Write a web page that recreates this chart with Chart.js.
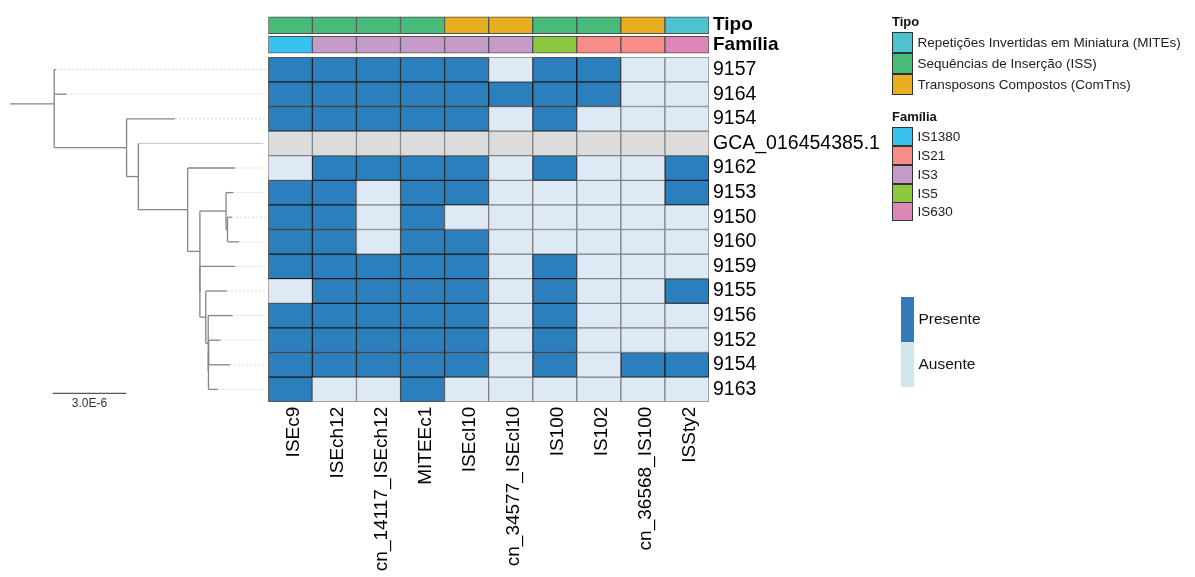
<!DOCTYPE html>
<html>
<head>
<meta charset="utf-8">
<script src="https://cdn.jsdelivr.net/npm/chart.js@4/dist/chart.umd.min.js"></script>
<style>
  html,body{margin:0;padding:0;background:#fff;}
  #wrap{position:relative;width:1195px;height:577px;overflow:hidden;font-family:'Liberation Sans',Arial,sans-serif;}
  canvas{position:absolute;left:0;top:0;}
  .lgt{position:absolute;font-weight:bold;font-size:13px;color:#111;line-height:1;}
  .lgi{position:absolute;font-size:13.5px;color:#222;line-height:1;white-space:nowrap;}
  .box{position:absolute;box-sizing:border-box;border:1px solid #333;}
</style>
</head>
<body>
<div id="wrap">
  <canvas id="tree" width="272" height="577"></canvas>
  <canvas id="annot" width="1195" height="577"></canvas>
  <canvas id="heat" width="1195" height="577"></canvas>
  <div id="legend"></div>
</div>
<script>
// ---------------- DATA ----------------
const columns = ['ISEc9','ISEch12','cn_14117_ISEch12','MITEEc1','ISEcl10','cn_34577_ISEcl10','IS100','IS102','cn_36568_IS100','ISSty2'];
const columnTipo = ['ISS','ISS','ISS','ISS','ComTns','ComTns','ISS','ISS','ComTns','MITEs'];
const columnFamilia = ['IS1380','IS3','IS3','IS3','IS3','IS3','IS5','IS21','IS21','IS630'];
const rowLabels = ['9157','9164','9154','GCA_016454385.1','9162','9153','9150','9160','9159','9155','9156','9152','9154','9163'];
const annotLabels = ['Tipo', 'Família'];
// 1 = Presente, 0 = Ausente, null = sem dado
const presence = [
  [1,1,1,1,1,0,1,1,0,0],
  [1,1,1,1,1,1,1,1,0,0],
  [1,1,1,1,1,0,1,0,0,0],
  [null,null,null,null,null,null,null,null,null,null],
  [0,1,1,1,1,0,1,0,0,1],
  [1,1,0,1,1,0,0,0,0,1],
  [1,1,0,1,0,0,0,0,0,0],
  [1,1,0,1,1,0,0,0,0,0],
  [1,1,1,1,1,0,1,0,0,0],
  [0,1,1,1,1,0,1,0,0,1],
  [1,1,1,1,1,0,1,0,0,0],
  [1,1,1,1,1,0,1,0,0,0],
  [1,1,1,1,1,0,1,0,1,1],
  [1,0,0,1,0,0,0,0,0,0]
];
const tipoKeys = ['MITEs','ISS','ComTns'];
const tipoNames = ['Repetições Invertidas em Miniatura (MITEs)','Sequências de Inserção (ISS)','Transposons Compostos (ComTns)'];
const familiaKeys = ['IS1380','IS21','IS3','IS5','IS630'];
const stateNames = ['Presente','Ausente'];
// tree (branch lengths in units of 1e-6)
const treeNewick = "(9157:0.07,9164:0.51,(9154:1.98,(GCA_016454385.1:5.06,(9162:1.94,((9153:0.30,(9150:0.18,9160:0.48):0.06):1.07,(9159:1.44,(9155:0.86,(9156:1.00,((9152:0.49,9154:0.87):0.01,9163:0.38):0.01):0.10):0.24):0.00):0.50):2.02):0.48):2.96):1.81;";
const scaleBarValue = 3.0; // x 1e-6
const scaleBarLabel = '3.0E-6';

// ---------------- STYLE ----------------
const tipoColors = {MITEs:'#4CC3CE', ISS:'#48BA7A', ComTns:'#E8AE22'};
const familiaColors = {IS1380:'#37C2EF', IS21:'#F78D86', IS3:'#C79BC9', IS5:'#8DC63F', IS630:'#DD86B8'};
const presentColor = '#2C7FBD', absentColor = '#DDEAF5', naColor = '#DCDCDC';
Chart.defaults.font.family = "'Liberation Sans', Arial, sans-serif";
Chart.defaults.animation = false;

const GRID_L = 268.3, GRID_R = 709, GRID_T = 57.3, GRID_B = 401.7, W = 1195, H = 577;
const nRows = rowLabels.length;

// ---------------- HEATMAP ----------------
const heatDatasets = presence.map((row, r) => ({
  label: rowLabels[r],
  data: columns.map(() => 1),
  backgroundColor: row.map(v => v === null ? naColor : (v ? presentColor : absentColor)),
  borderColor: row.map(v => v === 1 ? '#1b1b1b' : '#808080'),
  borderWidth: 1,
  borderSkipped: false,
  barPercentage: 1,
  categoryPercentage: 1
}));
new Chart(document.getElementById('heat'), {
  type: 'bar',
  data: {labels: columns, datasets: heatDatasets},
  options: {
    responsive: false,
    layout: {padding: {left: GRID_L, top: GRID_T, right: 0, bottom: 0}},
    plugins: {legend: {display: false}, tooltip: {enabled: false}},
    scales: {
      x: {stacked: true, grid: {display: false, drawTicks: false}, border: {display: false},
          ticks: {autoSkip: false, maxRotation: 90, minRotation: 90, color: '#000', font: {size: 19}, padding: 5, labelOffset: 3},
          afterFit: s => { s.height = H - GRID_B; }},
      y: {type: 'linear', stacked: true, min: 0, max: nRows, reverse: true, display: false},
      yr: {type: 'category', labels: rowLabels, min: 0, max: nRows - 1, position: 'right', offset: true,
           grid: {display: false, drawTicks: false}, border: {display: false},
           ticks: {autoSkip: false, color: '#000', font: {size: 19.5}, padding: 4},
           afterFit: s => { s.width = W - GRID_R; }}
    }
  }
});

// ---------------- ANNOTATION ROWS ----------------
const ANN_T = 9.5, ANN_B = 54.5;
new Chart(document.getElementById('annot'), {
  type: 'bar',
  data: {labels: columns, datasets: [
    {label: annotLabels[0], data: columns.map(() => [0.07, 0.93]),
     backgroundColor: columnTipo.map(t => tipoColors[t]), borderColor: '#505050', borderWidth: 1,
     borderSkipped: false, grouped: false, barPercentage: 1, categoryPercentage: 1},
    {label: annotLabels[1], data: columns.map(() => [1.07, 1.93]),
     backgroundColor: columnFamilia.map(f => familiaColors[f]), borderColor: '#505050', borderWidth: 1,
     borderSkipped: false, grouped: false, barPercentage: 1, categoryPercentage: 1}
  ]},
  options: {
    responsive: false,
    layout: {padding: {left: GRID_L, top: ANN_T, right: 0, bottom: H - ANN_B}},
    plugins: {legend: {display: false}, tooltip: {enabled: false}},
    scales: {
      x: {display: false},
      y: {type: 'linear', min: 0, max: 2, reverse: true, display: false},
      yl: {type: 'category', labels: annotLabels, min: 0, max: 1, position: 'right', offset: true,
           grid: {display: false, drawTicks: false}, border: {display: false},
           ticks: {autoSkip: false, color: '#000', font: {size: 19, weight: 'bold'}, padding: 4},
           afterFit: s => { s.width = W - GRID_R; }}
    }
  }
});

// ---------------- TREE ----------------
function parseNewick(s) {
  let i = 0;
  function node() {
    const n = {children: [], name: '', len: 0};
    if (s[i] === '(') {
      i++;
      n.children.push(node());
      while (s[i] === ',') { i++; n.children.push(node()); }
      i++;
    }
    let name = '';
    while (i < s.length && !':,();'.includes(s[i])) name += s[i++];
    n.name = name;
    if (s[i] === ':') {
      i++; let num = '';
      while (i < s.length && !',();'.includes(s[i])) num += s[i++];
      n.len = parseFloat(num);
    }
    return n;
  }
  return node();
}
const tree = parseNewick(treeNewick);
let leafIdx = 0;
function layout(n, px) {
  n.px = px; n.x = px + n.len;
  if (!n.children.length) { n.y = leafIdx++; return; }
  n.children.forEach(c => layout(c, n.x));
  n.y = n.children.reduce((a, c) => a + c.y, 0) / n.children.length;
}
layout(tree, 0);
const TREE_L = 10, UNIT = 24.44;
const xMaxTree = (GRID_L - TREE_L) / UNIT;
const alignX = (GRID_L - 2.5 - TREE_L) / UNIT;
const treeSets = [];
const branchColor = '#858585', faintColor = '#cfcfcf';
function seg(x1, y1, x2, y2, color, width, dash) {
  treeSets.push({data: [{x: x1, y: y1}, {x: x2, y: y2}], showLine: true, borderColor: color,
    borderWidth: width, borderDash: dash || [], pointRadius: 0, fill: false, clip: false});
}
function collect(n) {
  const isLeaf = !n.children.length;
  const faint = isLeaf && n.name.startsWith('GCA');
  if (isLeaf && n.x < alignX) seg(n.x, n.y, alignX, n.y, '#d9d9d9', 1, [2, 2]);
  seg(n.px, n.y, n.x, n.y, faint ? faintColor : branchColor, 1.3);
  if (!isLeaf) {
    const ys = n.children.map(c => c.y);
    seg(n.x, Math.min(...ys), n.x, Math.max(...ys), branchColor, 1.3);
    n.children.forEach(collect);
  }
}
collect(tree);
// scale bar
const sbX0 = 1.75, sbY = 13.16;
seg(sbX0, sbY, sbX0 + scaleBarValue, sbY, '#555', 1.3);
const scaleLabelPlugin = {
  id: 'sbl',
  afterDatasetsDraw(chart) {
    const {ctx, scales} = chart;
    const x = scales.x.getPixelForValue(sbX0 + scaleBarValue / 2);
    const y = scales.y.getPixelForValue(sbY);
    ctx.save();
    ctx.font = "12px 'Liberation Sans', Arial, sans-serif";
    ctx.fillStyle = '#333'; ctx.textAlign = 'center'; ctx.textBaseline = 'top';
    ctx.fillText(scaleBarLabel, x, y + 4);
    ctx.restore();
  }
};
new Chart(document.getElementById('tree'), {
  type: 'scatter',
  data: {datasets: treeSets},
  options: {
    responsive: false,
    layout: {padding: {left: TREE_L, top: GRID_T, right: 272 - GRID_L, bottom: H - GRID_B}},
    plugins: {legend: {display: false}, tooltip: {enabled: false}},
    scales: {
      x: {type: 'linear', min: 0, max: xMaxTree, display: false},
      y: {type: 'linear', min: -0.5, max: nRows - 0.5, reverse: true, display: false}
    }
  },
  plugins: [scaleLabelPlugin]
});

// ---------------- LEGENDS (HTML) ----------------
const lg = document.getElementById('legend');
function add(html) { lg.insertAdjacentHTML('beforeend', html); }
add(`<div class="lgt" style="left:892px;top:15px">Tipo</div>`);
tipoKeys.forEach((k, i) => {
  const top = 31.5 + i * 21.2;
  add(`<div class="box" style="left:891.5px;top:${top}px;width:21px;height:21.5px;background:${tipoColors[k]}"></div>`);
  add(`<div class="lgi" style="left:917.5px;top:${top + 4}px">${tipoNames[i]}</div>`);
});
add(`<div class="lgt" style="left:892px;top:110px">Família</div>`);
familiaKeys.forEach((k, i) => {
  const top = 127.3 + i * 18.75;
  add(`<div class="box" style="left:891.5px;top:${top}px;width:21px;height:19.1px;background:${familiaColors[k]}"></div>`);
  add(`<div class="lgi" style="left:917.5px;top:${top + 3}px">${k}</div>`);
});
stateNames.forEach((name, i) => {
  const top = 296.7 + i * 45;
  add(`<div style="position:absolute;left:901px;top:${top}px;width:13px;height:45px;background:${i ? '#D2E5E9' : '#3479B8'}"></div>`);
  add(`<div class="lgi" style="left:918.5px;top:${top + 14}px;font-size:15.5px;color:#111">${name}</div>`);
});
</script>
</body>
</html>
